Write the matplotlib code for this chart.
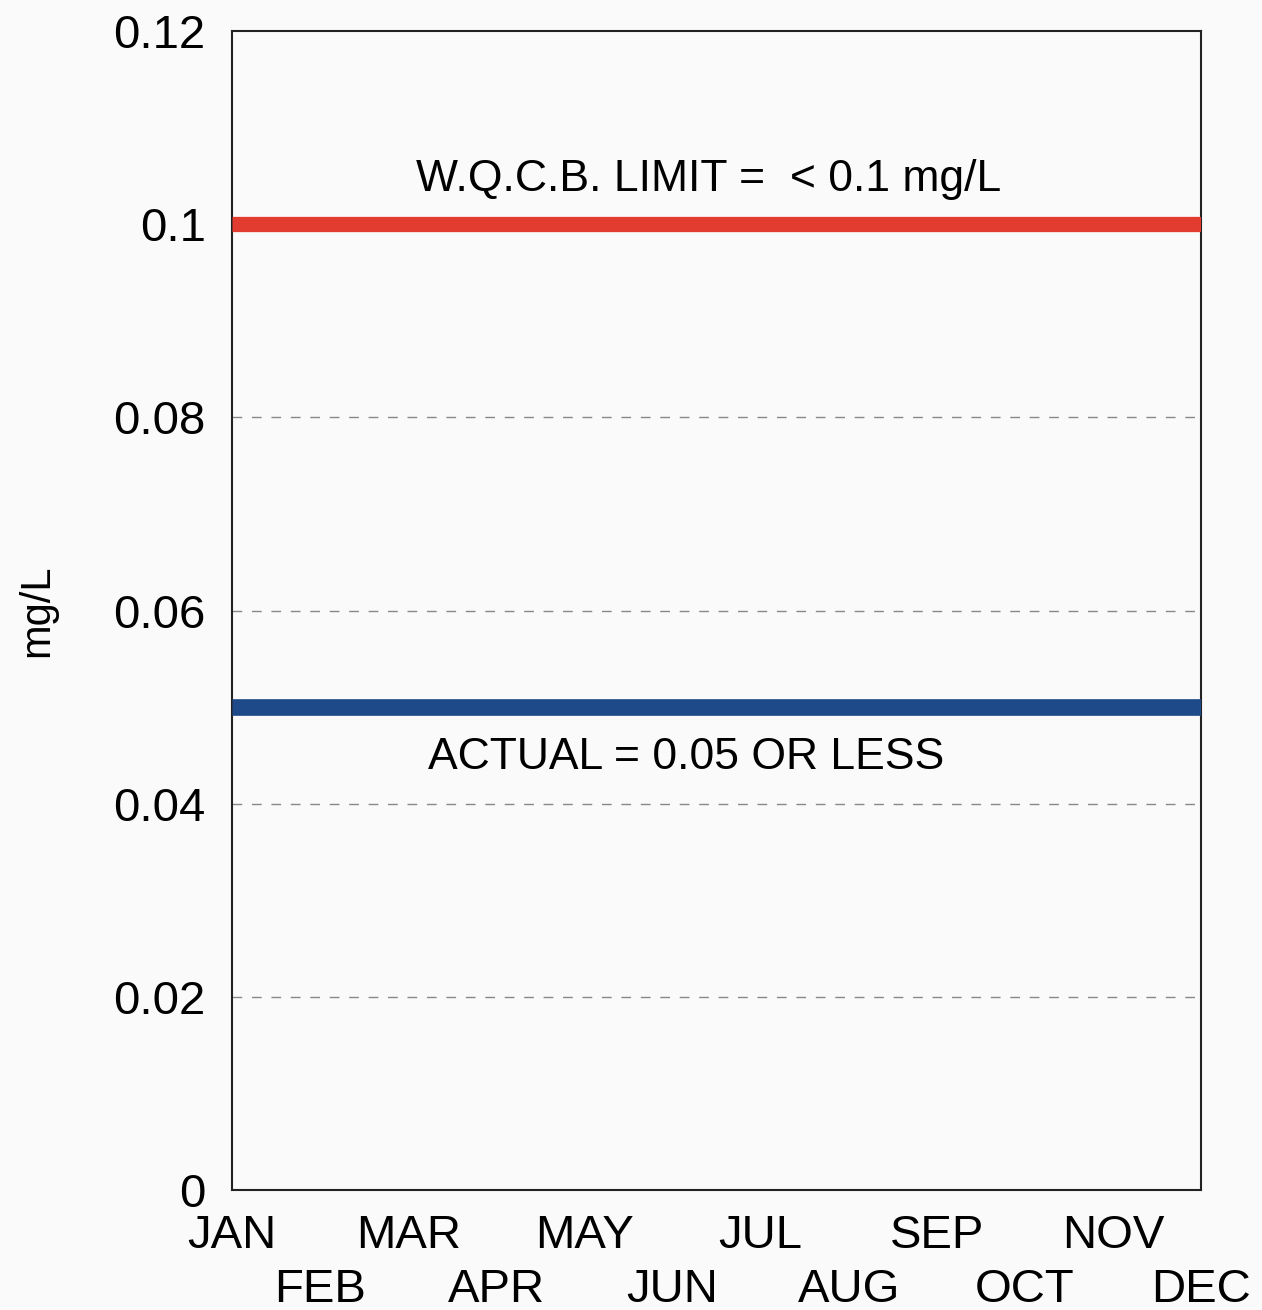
import matplotlib
matplotlib.use('Agg')
import matplotlib.pyplot as plt

months = ['JAN', 'FEB', 'MAR', 'APR', 'MAY', 'JUN', 'JUL', 'AUG', 'SEP', 'OCT', 'NOV', 'DEC']
limit = [0.1, 0.1, 0.1, 0.1, 0.1, 0.1, 0.1, 0.1, 0.1, 0.1, 0.1, 0.1]
actual = [0.05, 0.05, 0.05, 0.05, 0.05, 0.05, 0.05, 0.05, 0.05, 0.05, 0.05, 0.05]
y_ticks = [0, 0.02, 0.04, 0.06, 0.08, 0.1, 0.12]
y_labels = ['0', '0.02', '0.04', '0.06', '0.08', '0.1', '0.12']

plt.rcParams['font.family'] = ['Liberation Sans', 'DejaVu Sans']

x = list(range(1, len(months) + 1))

fig = plt.figure(figsize=(12.62, 13.10), dpi=100, facecolor='#fafafa')
ax = fig.add_axes([232 / 1262, 1 - 1190 / 1310, (1201 - 232) / 1262, (1190 - 31) / 1310])
ax.set_facecolor('#fafafa')

ax.plot(x, limit, color='#e23b2f', linewidth=11, solid_capstyle='butt', zorder=3)
ax.plot(x, actual, color='#1f4a8a', linewidth=12, solid_capstyle='butt', zorder=3)

ax.text(6.41, 0.1046, 'W.Q.C.B. LIMIT =  < 0.1 mg/L', fontsize=32, ha='center', va='center')
ax.text(6.15, 0.0448, 'ACTUAL = 0.05 OR LESS', fontsize=32, ha='center', va='center')

ax.set_xlim(1, 12)
ax.set_ylim(0, 0.12)
ax.set_yticks(y_ticks)
ax.set_yticklabels(y_labels)
ax.set_xticks(x[0::2])
ax.set_xticklabels(months[0::2])
ax.set_xticks(x[1::2], minor=True)
ax.set_xticklabels(months[1::2], minor=True)
ax.tick_params(axis='y', length=0, pad=19, labelsize=34)
ax.tick_params(axis='x', which='major', length=0, pad=17, labelsize=34)
ax.tick_params(axis='x', which='minor', length=0, pad=56, labelsize=34)

ax.set_ylabel('mg/L', fontsize=30, labelpad=40)

for v in y_ticks[1:-2]:
    ax.axhline(v, color='#888888', linewidth=1, dashes=(7, 7), zorder=1)

for s in ax.spines.values():
    s.set_linewidth(1.5)
    s.set_color('#222222')

fig.savefig('out.png', dpi=100, facecolor=fig.get_facecolor())
